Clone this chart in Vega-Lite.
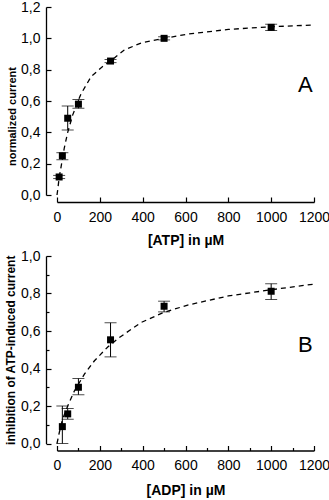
{
  "$schema": "https://vega.github.io/schema/vega-lite/v6.json",
  "padding": {"left": 4, "top": 0, "right": 0, "bottom": 0},
  "spacing": 2,
  "config": {
    "locale": {"number": {"decimal": ",", "thousands": ".", "grouping": [3], "currency": ["", " €"]}},
    "view": {"stroke": null},
    "font": "Liberation Sans",
    "axis": {"domainColor": "black", "domainWidth": 1.3, "tickColor": "black", "tickWidth": 1.2, "grid": false, "labelColor": "black", "labelFont": "Liberation Sans", "labelFontSize": 14, "titleColor": "black", "titleFont": "Liberation Sans", "titleFontWeight": "bold", "labelOverlap": false},
    "axisX": {"offset": 7, "tickSize": -5, "labelPadding": 13, "titleFontSize": 14, "titlePadding": 9, "labelFlush": false, "format": "d"},
    "axisY": {"offset": 11, "tickSize": -5, "labelPadding": 11, "titlePadding": 3, "format": ".1f", "labelFlush": false}
  },
  "datasets": {
    "pointsA": [
      {"x": 10, "y": 0.115, "lo": 0.105, "hi": 0.125},
      {"x": 25, "y": 0.25, "lo": 0.225, "hi": 0.27},
      {"x": 50, "y": 0.49, "lo": 0.415, "hi": 0.568},
      {"x": 100, "y": 0.58, "lo": 0.553, "hi": 0.61},
      {"x": 250, "y": 0.855, "lo": 0.845, "hi": 0.865},
      {"x": 500, "y": 1.0, "lo": 0.99, "hi": 1.01},
      {"x": 1000, "y": 1.07, "lo": 1.05, "hi": 1.09}
    ],
    "curveA": [
      {"x": 0, "y": 0}, {"x": 4, "y": 0.04}, {"x": 10, "y": 0.11}, {"x": 19, "y": 0.18}, {"x": 34, "y": 0.3},
      {"x": 50, "y": 0.4}, {"x": 73, "y": 0.51}, {"x": 100, "y": 0.605}, {"x": 112, "y": 0.645},
      {"x": 159, "y": 0.755}, {"x": 213, "y": 0.82}, {"x": 250, "y": 0.855}, {"x": 314, "y": 0.925},
      {"x": 392, "y": 0.97}, {"x": 500, "y": 1.0}, {"x": 610, "y": 1.027}, {"x": 800, "y": 1.057},
      {"x": 1000, "y": 1.074}, {"x": 1200, "y": 1.085}
    ],
    "pointsB": [
      {"x": 25, "y": 0.09, "lo": 0.0, "hi": 0.2},
      {"x": 50, "y": 0.158, "lo": 0.13, "hi": 0.187},
      {"x": 100, "y": 0.3, "lo": 0.26, "hi": 0.347},
      {"x": 250, "y": 0.553, "lo": 0.462, "hi": 0.644},
      {"x": 500, "y": 0.732, "lo": 0.702, "hi": 0.759},
      {"x": 1000, "y": 0.812, "lo": 0.768, "hi": 0.852}
    ],
    "curveB": [
      {"x": 0, "y": 0}, {"x": 11, "y": 0.06}, {"x": 26, "y": 0.13}, {"x": 50, "y": 0.2}, {"x": 81, "y": 0.28},
      {"x": 128, "y": 0.37}, {"x": 174, "y": 0.44}, {"x": 237, "y": 0.515}, {"x": 291, "y": 0.565},
      {"x": 392, "y": 0.645}, {"x": 500, "y": 0.7}, {"x": 610, "y": 0.738}, {"x": 800, "y": 0.787},
      {"x": 1000, "y": 0.82}, {"x": 1200, "y": 0.85}
    ],
    "labelA": [{"x": 1160, "y": 0.705, "t": "A"}],
    "labelB": [{"x": 1160, "y": 0.523, "t": "B"}]
  },
  "vconcat": [
    {
      "width": 257,
      "height": 188,
      "layer": [
        {
          "data": {"name": "curveA"},
          "mark": {"type": "line", "color": "black", "strokeWidth": 1.3, "strokeDash": [5, 4]},
          "encoding": {
            "x": {"field": "x", "type": "quantitative", "scale": {"domain": [0, 1200], "nice": false}, "axis": {"title": "[ATP] in µM", "values": [0, 200, 400, 600, 800, 1000, 1200]}},
            "y": {"field": "y", "type": "quantitative", "scale": {"domain": [0, 1.2], "nice": false}, "axis": {"title": "normalized current", "titleFontSize": 11, "values": [0, 0.2, 0.4, 0.6, 0.8, 1.0, 1.2], "titleY": 109}}
          }
        },
        {
          "data": {"name": "pointsA"},
          "mark": {"type": "rule", "color": "black", "strokeWidth": 1},
          "encoding": {
            "x": {"field": "x", "type": "quantitative", "axis": {"title": "[ATP] in µM", "values": [0, 200, 400, 600, 800, 1000, 1200]}},
            "y": {"field": "lo", "type": "quantitative", "axis": {"title": "normalized current", "titleFontSize": 11, "values": [0, 0.2, 0.4, 0.6, 0.8, 1.0, 1.2], "titleY": 109}},
            "y2": {"field": "hi"}
          }
        },
        {
          "data": {"name": "pointsA"},
          "mark": {"type": "tick", "color": "black", "orient": "horizontal", "size": 12, "thickness": 1},
          "encoding": {
            "x": {"field": "x", "type": "quantitative", "axis": {"title": "[ATP] in µM", "values": [0, 200, 400, 600, 800, 1000, 1200]}},
            "y": {"field": "lo", "type": "quantitative", "axis": {"title": "normalized current", "titleFontSize": 11, "values": [0, 0.2, 0.4, 0.6, 0.8, 1.0, 1.2], "titleY": 109}}
          }
        },
        {
          "data": {"name": "pointsA"},
          "mark": {"type": "tick", "color": "black", "orient": "horizontal", "size": 12, "thickness": 1},
          "encoding": {
            "x": {"field": "x", "type": "quantitative", "axis": {"title": "[ATP] in µM", "values": [0, 200, 400, 600, 800, 1000, 1200]}},
            "y": {"field": "hi", "type": "quantitative", "axis": {"title": "normalized current", "titleFontSize": 11, "values": [0, 0.2, 0.4, 0.6, 0.8, 1.0, 1.2], "titleY": 109}}
          }
        },
        {
          "data": {"name": "pointsA"},
          "mark": {"type": "point", "shape": "square", "filled": true, "color": "black", "size": 49, "opacity": 1},
          "encoding": {
            "x": {"field": "x", "type": "quantitative", "axis": {"title": "[ATP] in µM", "values": [0, 200, 400, 600, 800, 1000, 1200]}},
            "y": {"field": "y", "type": "quantitative", "axis": {"title": "normalized current", "titleFontSize": 11, "values": [0, 0.2, 0.4, 0.6, 0.8, 1.0, 1.2], "titleY": 109}}
          }
        },
        {
          "data": {"name": "labelA"},
          "mark": {"type": "text", "fontSize": 22, "font": "Liberation Sans", "color": "black", "baseline": "middle", "align": "center"},
          "encoding": {
            "x": {"field": "x", "type": "quantitative", "axis": {"title": "[ATP] in µM", "values": [0, 200, 400, 600, 800, 1000, 1200]}},
            "y": {"field": "y", "type": "quantitative", "axis": {"title": "normalized current", "titleFontSize": 11, "values": [0, 0.2, 0.4, 0.6, 0.8, 1.0, 1.2], "titleY": 109}},
            "text": {"field": "t"}
          }
        }
      ]
    },
    {
      "width": 257,
      "height": 187.5,
      "layer": [
        {
          "data": {"name": "curveB"},
          "mark": {"type": "line", "color": "black", "strokeWidth": 1.3, "strokeDash": [5, 4]},
          "encoding": {
            "x": {"field": "x", "type": "quantitative", "scale": {"domain": [0, 1200], "nice": false}, "axis": {"title": "[ADP] in µM", "values": [0, 100, 200, 300, 400, 500, 600, 700, 800, 900, 1000, 1100, 1200], "labelExpr": "datum.value % 200 == 0 ? datum.label : ''", "tickSize": {"condition": {"test": "datum.value % 200 != 0", "value": -3}, "value": -5}}},
            "y": {"field": "y", "type": "quantitative", "scale": {"domain": [0, 1.0], "nice": false}, "axis": {"title": "inhibition of ATP-induced current", "titleFontSize": 12, "values": [0, 0.1, 0.2, 0.3, 0.4, 0.5, 0.6, 0.7, 0.8, 0.9, 1.0], "labelExpr": "indexof(['0,0','0,2','0,4','0,6','0,8','1,0'], datum.label) >= 0 ? datum.label : ''", "tickSize": {"condition": {"test": "indexof([0.1, 0.3, 0.5, 0.7, 0.9], datum.value) >= 0", "value": -3}, "value": -5}}}
          }
        },
        {
          "data": {"name": "pointsB"},
          "mark": {"type": "rule", "color": "black", "strokeWidth": 1},
          "encoding": {
            "x": {"field": "x", "type": "quantitative", "axis": {"title": "[ADP] in µM", "values": [0, 100, 200, 300, 400, 500, 600, 700, 800, 900, 1000, 1100, 1200], "labelExpr": "datum.value % 200 == 0 ? datum.label : ''", "tickSize": {"condition": {"test": "datum.value % 200 != 0", "value": -3}, "value": -5}}},
            "y": {"field": "lo", "type": "quantitative", "axis": {"title": "inhibition of ATP-induced current", "titleFontSize": 12, "values": [0, 0.1, 0.2, 0.3, 0.4, 0.5, 0.6, 0.7, 0.8, 0.9, 1.0], "labelExpr": "indexof(['0,0','0,2','0,4','0,6','0,8','1,0'], datum.label) >= 0 ? datum.label : ''", "tickSize": {"condition": {"test": "indexof([0.1, 0.3, 0.5, 0.7, 0.9], datum.value) >= 0", "value": -3}, "value": -5}}},
            "y2": {"field": "hi"}
          }
        },
        {
          "data": {"name": "pointsB"},
          "mark": {"type": "tick", "color": "black", "orient": "horizontal", "size": 12, "thickness": 1},
          "encoding": {
            "x": {"field": "x", "type": "quantitative", "axis": {"title": "[ADP] in µM", "values": [0, 100, 200, 300, 400, 500, 600, 700, 800, 900, 1000, 1100, 1200], "labelExpr": "datum.value % 200 == 0 ? datum.label : ''", "tickSize": {"condition": {"test": "datum.value % 200 != 0", "value": -3}, "value": -5}}},
            "y": {"field": "lo", "type": "quantitative", "axis": {"title": "inhibition of ATP-induced current", "titleFontSize": 12, "values": [0, 0.1, 0.2, 0.3, 0.4, 0.5, 0.6, 0.7, 0.8, 0.9, 1.0], "labelExpr": "indexof(['0,0','0,2','0,4','0,6','0,8','1,0'], datum.label) >= 0 ? datum.label : ''", "tickSize": {"condition": {"test": "indexof([0.1, 0.3, 0.5, 0.7, 0.9], datum.value) >= 0", "value": -3}, "value": -5}}}
          }
        },
        {
          "data": {"name": "pointsB"},
          "mark": {"type": "tick", "color": "black", "orient": "horizontal", "size": 12, "thickness": 1},
          "encoding": {
            "x": {"field": "x", "type": "quantitative", "axis": {"title": "[ADP] in µM", "values": [0, 100, 200, 300, 400, 500, 600, 700, 800, 900, 1000, 1100, 1200], "labelExpr": "datum.value % 200 == 0 ? datum.label : ''", "tickSize": {"condition": {"test": "datum.value % 200 != 0", "value": -3}, "value": -5}}},
            "y": {"field": "hi", "type": "quantitative", "axis": {"title": "inhibition of ATP-induced current", "titleFontSize": 12, "values": [0, 0.1, 0.2, 0.3, 0.4, 0.5, 0.6, 0.7, 0.8, 0.9, 1.0], "labelExpr": "indexof(['0,0','0,2','0,4','0,6','0,8','1,0'], datum.label) >= 0 ? datum.label : ''", "tickSize": {"condition": {"test": "indexof([0.1, 0.3, 0.5, 0.7, 0.9], datum.value) >= 0", "value": -3}, "value": -5}}}
          }
        },
        {
          "data": {"name": "pointsB"},
          "mark": {"type": "point", "shape": "square", "filled": true, "color": "black", "size": 49, "opacity": 1},
          "encoding": {
            "x": {"field": "x", "type": "quantitative", "axis": {"title": "[ADP] in µM", "values": [0, 100, 200, 300, 400, 500, 600, 700, 800, 900, 1000, 1100, 1200], "labelExpr": "datum.value % 200 == 0 ? datum.label : ''", "tickSize": {"condition": {"test": "datum.value % 200 != 0", "value": -3}, "value": -5}}},
            "y": {"field": "y", "type": "quantitative", "axis": {"title": "inhibition of ATP-induced current", "titleFontSize": 12, "values": [0, 0.1, 0.2, 0.3, 0.4, 0.5, 0.6, 0.7, 0.8, 0.9, 1.0], "labelExpr": "indexof(['0,0','0,2','0,4','0,6','0,8','1,0'], datum.label) >= 0 ? datum.label : ''", "tickSize": {"condition": {"test": "indexof([0.1, 0.3, 0.5, 0.7, 0.9], datum.value) >= 0", "value": -3}, "value": -5}}}
          }
        },
        {
          "data": {"name": "labelB"},
          "mark": {"type": "text", "fontSize": 22, "font": "Liberation Sans", "color": "black", "baseline": "middle", "align": "center"},
          "encoding": {
            "x": {"field": "x", "type": "quantitative", "axis": {"title": "[ADP] in µM", "values": [0, 100, 200, 300, 400, 500, 600, 700, 800, 900, 1000, 1100, 1200], "labelExpr": "datum.value % 200 == 0 ? datum.label : ''", "tickSize": {"condition": {"test": "datum.value % 200 != 0", "value": -3}, "value": -5}}},
            "y": {"field": "y", "type": "quantitative", "axis": {"title": "inhibition of ATP-induced current", "titleFontSize": 12, "values": [0, 0.1, 0.2, 0.3, 0.4, 0.5, 0.6, 0.7, 0.8, 0.9, 1.0], "labelExpr": "indexof(['0,0','0,2','0,4','0,6','0,8','1,0'], datum.label) >= 0 ? datum.label : ''", "tickSize": {"condition": {"test": "indexof([0.1, 0.3, 0.5, 0.7, 0.9], datum.value) >= 0", "value": -3}, "value": -5}}},
            "text": {"field": "t"}
          }
        }
      ]
    }
  ]
}
